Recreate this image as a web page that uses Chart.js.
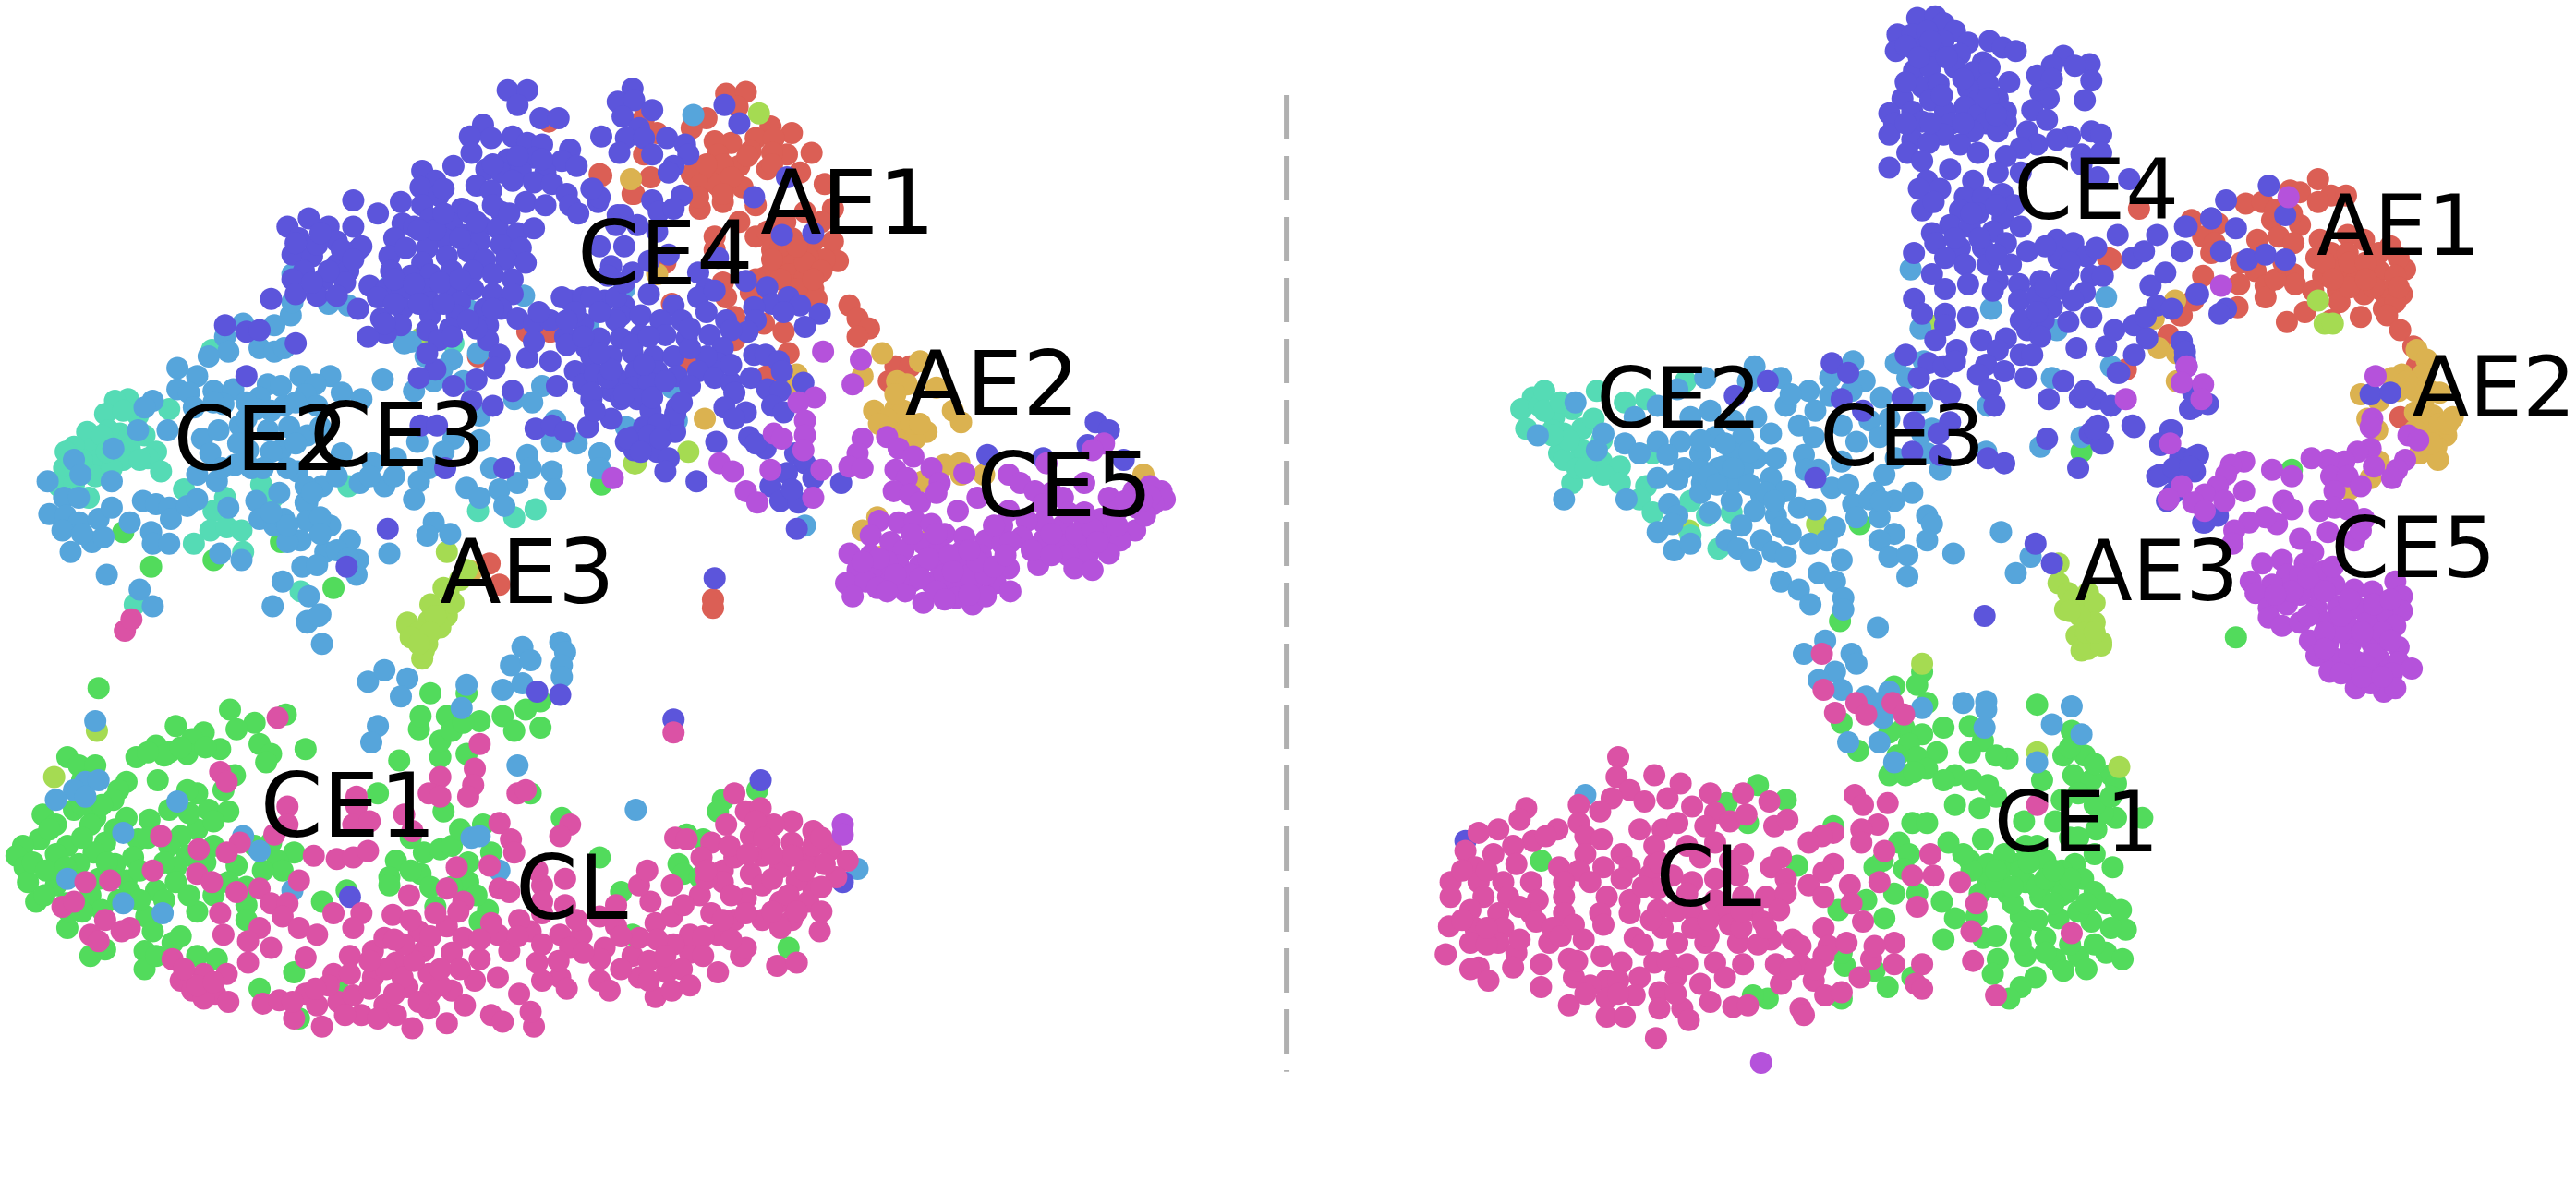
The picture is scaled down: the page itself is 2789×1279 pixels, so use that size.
<!DOCTYPE html>
<html><head><meta charset="utf-8">
<script src="https://cdn.jsdelivr.net/npm/chart.js@4"></script>
<style>html,body{margin:0;padding:0;background:#fff}canvas{display:block}</style>
</head><body><canvas id="c" width="2789" height="1279"></canvas>
<script>
// Values, as flat x,y lists (two embedding panels share one axis pair).
const ce1Left=[60,419,140,432,174,435,155,440,144,444,107,442,124,446,117,450,95,454,103,458,83,461,134,456,114,459,158,453,165,459,186,456,162,464,41,461,48,466,58,466,77,476,72,481,69,487,96,475,143,472,136,481,120,483,114,481,103,493,127,493,139,494,45,493,26,496,58,498,77,498,91,499,34,502,55,502,120,505,110,509,24,511,14,515,41,515,64,513,84,511,103,515,10,521,34,520,57,519,114,521,165,513,179,519,169,524,15,528,48,526,70,526,81,522,107,528,144,527,172,530,17,537,34,539,77,536,107,537,139,537,22,549,55,545,79,543,95,542,62,554,120,555,150,551,41,565,89,558,93,567,105,574,88,579,88,590,55,582,64,578,120,582,132,584,150,560,196,549,211,542,179,592,158,602,182,620,243,463,268,461,284,459,268,451,255,444,256,436,272,436,275,445,292,439,282,440,306,436,320,432,329,427,313,445,329,443,262,422,284,422,230,483,270,494,294,502,323,483,342,498,241,524,258,519,268,517,237,534,256,532,275,515,237,539,265,552,299,519,285,537,297,554,292,561,365,522,418,508,428,511,413,526,416,532,426,534,378,543,440,487,437,494,461,481,480,577,385,569,206,603,92,345,75,324,130,341,171,330,203,358,366,295];
const ce1LeftFill=[30,505,20,525,28,530,40,528,60,535,65,525,85,530,100,525,125,525,130,515,70,505,50,510,90,510,27,545,40,550,50,555,72,548,85,548,100,548,130,545,115,545,100,460,90,458,110,455,125,455,50,475,62,490,50,490,155,515,160,530,250,530,262,540,285,525,290,545,250,510,280,505,275,540,110,570,95,582,42,555,150,540,130,500,115,495];
const ce1Right=[1170,409,1167,417,1153,418,1173,428,1183,443,1159,443,1150,446,1170,447,1162,453,1179,458,1167,461,1150,472,1160,472,1173,468,1131,457,1121,440,1199,442,1207,451,1199,458,1222,462,1190,472,1183,475,1200,475,1240,429,1261,445,1256,460,1269,460,1243,475,1262,472,1285,472,1273,475,1265,483,1288,477,1215,485,1190,490,1205,492,1232,500,1251,500,1288,498,1304,498,1276,505,1164,501,1173,501,1156,513,1116,503,1186,513,1207,511,1233,515,1199,524,1210,526,1228,526,1245,524,1263,526,1286,528,1210,537,1233,537,1251,537,1268,535,1205,544,1222,544,1242,546,1259,543,1275,543,1190,559,1203,558,1230,558,1253,559,1282,550,1291,554,1183,572,1207,571,1230,567,1245,571,1273,561,1294,566,1216,584,1233,582,1251,584,1265,582,1282,580,1292,584,1213,593,1239,595,1256,591,1230,601,1223,608,1164,595,1149,601,1141,591,1123,588,1121,580,1076,608,1067,606,1121,608,1094,527,938,524,1070,478,1051,489,1087,487,1064,501,1146,524,1153,544,1167,544,1182,549,1136,548,1147,559,1119,554,1141,528,1162,520,1159,529,1361,388,1395,286,1132,319,1120,378,1267,275,1220,520,1240,515,1225,550,1265,555,1240,560,1218,530,1255,530,1260,510,1275,520];
const ce1RightFill=[1200,530,1215,540,1240,540,1255,545,1270,550,1250,550,1285,565,1275,575,1260,575,1245,580,1230,575,1215,570,1195,520,1265,510,1280,495,1275,490,1255,487,1210,478,1215,460,1260,455,1275,465,1285,485,1155,460,1165,470,1215,530,1230,530,1245,535,1260,535,1225,540,1235,525,1250,530,1270,590];
const ae1Left=[442,57,454,56,449,65,430,72,421,78,392,72,400,81,469,77,482,81,435,86,445,87,460,84,471,84,494,93,479,94,470,93,457,92,437,94,392,94,450,101,467,103,487,105,396,108,366,107,421,106,432,107,426,113,437,113,452,114,440,123,426,127,460,125,386,118,502,112,507,127,490,129,435,144,435,152,460,144,467,141,470,152,482,145,495,147,507,147,510,159,502,158,492,157,480,158,470,165,465,169,480,167,490,169,495,176,497,182,485,176,462,178,440,172,442,181,457,178,447,193,465,197,477,202,447,207,480,215,517,186,522,194,529,200,522,205,409,185,405,160,419,220,467,229,541,232,545,223,554,223,434,365,434,370,365,106,385,118,321,202,335,202,291,217,298,343,304,356,334,74,450,135,478,135,500,135];
const ae1LeftFill=[475,170,490,160,500,165,475,150,495,170,480,180,440,100,455,95,430,100,445,108,425,120,470,100,440,118,485,150,470,158,460,170];
const ae1Right=[1411,109,1394,116,1400,117,1367,124,1377,123,1419,119,1428,119,1411,123,1383,134,1400,137,1334,134,1350,136,1341,144,1348,148,1346,154,1374,146,1387,144,1396,148,1412,146,1429,143,1439,146,1455,150,1448,154,1419,154,1429,154,1464,164,1460,157,1410,157,1364,160,1341,168,1373,165,1396,167,1414,168,1425,165,1435,168,1448,165,1458,168,1363,173,1379,174,1397,173,1408,177,1423,177,1439,179,1450,177,1462,179,1379,181,1424,184,1451,188,1458,184,1362,187,1335,183,1327,192,1392,196,1403,190,1419,195,1437,193,1453,192,1461,201,1469,211,1471,223,1461,254,1320,204,1294,225,1283,157,1302,127,1285,158,1320,205,1328,192];
const ae1RightFill=[1430,160,1440,160,1445,175,1430,175,1415,160,1440,170,1420,170,1385,170,1375,155,1390,160,1460,175,1385,128,1395,130];
const ae2Left=[384,109,400,167,537,215,525,229,560,220,546,232,552,234,570,236,532,250,545,249,547,258,540,265,552,263,564,263,557,267,580,250,585,257,485,228,480,234,429,255,575,283,584,282,585,289,599,289,562,293,696,289,534,315,525,323,566,328,536,339,287,348,550,250,555,258,540,255,560,258,545,240,535,258];
const ae2Right=[1471,213,1477,219,1462,228,1475,228,1456,230,1479,238,1460,238,1437,240,1448,244,1485,239,1470,251,1481,253,1493,254,1477,261,1489,265,1483,272,1473,276,1484,280,1441,255,1447,262,1448,281,1443,291,1430,298,1448,366,1314,212,1324,183,1325,215,1325,232,1311,194,1470,238,1470,262,1485,258,1475,245,1465,232,1480,270,1490,258];
const ae3Left=[248,381,261,378,272,375,258,385,268,382,260,392,257,401,258,396,272,336,273,360,266,373,276,367,248,379,284,347,387,282,256,206,462,69,386,282,419,275,33,473,59,445,262,368,270,358,280,353,255,385,265,375,250,388,262,385,255,392];
const ae3Right=[1411,183,1415,197,1420,197,1106,319,1253,355,1259,361,1257,371,1270,366,1273,379,1264,387,1276,389,1271,361,1275,367,1275,379,1269,390,1279,391,1267,396,1271,395,1279,393,1170,404,1240,458,1290,467,1253,343,1028,323,1175,198,1262,365,1266,375,1270,385,1260,372,1275,385];
const ce2Left=[78,243,70,244,64,252,103,249,53,263,73,264,88,265,56,273,79,273,95,275,39,285,59,280,75,280,90,279,98,287,58,290,36,296,54,303,112,298,130,311,128,323,138,321,147,323,137,303,118,331,159,295,166,303,212,296,276,209,129,213,291,311,313,315,326,310,148,336,183,360,82,368,84,253,66,262,68,285,45,272,75,250,62,265,65,275,85,280,50,280,45,295,40,275];
const ce2Right=[933,242,926,249,937,247,929,261,946,254,957,249,972,238,989,245,1002,243,952,264,963,261,949,276,963,274,975,281,986,284,976,289,986,294,957,294,952,280,1006,276,1002,296,998,304,1054,312,1029,305,1006,312,1039,314,1046,334,1029,326,1026,232,940,238,945,262,970,255,975,268,960,285,940,250,950,245,955,268,965,285,945,265];
const ce3Left=[422,70,319,180,257,163,236,175,200,185,212,186,178,167,177,192,178,184,286,189,358,199,380,176,167,198,148,197,137,205,139,214,127,217,158,212,167,214,173,212,108,224,250,208,246,209,259,217,275,219,269,225,291,215,233,231,252,238,264,232,282,232,330,235,313,243,324,245,120,229,108,237,115,239,130,238,142,237,163,234,171,235,183,229,201,229,192,234,158,242,186,240,193,247,208,239,220,243,173,247,118,248,136,246,156,249,93,244,88,248,84,262,102,262,69,273,45,280,49,289,29,293,68,293,123,267,133,262,128,276,146,259,163,262,176,260,187,265,151,274,171,274,153,285,120,289,132,293,143,283,181,287,196,296,208,276,227,282,241,279,254,269,261,285,276,267,292,268,292,253,255,293,234,296,252,304,219,294,186,296,186,306,299,285,284,297,292,303,304,298,307,308,315,294,321,277,323,285,336,287,338,298,336,269,351,270,365,276,364,285,338,256,39,303,30,313,40,314,48,318,38,323,56,330,63,327,60,316,68,309,43,336,79,318,87,305,95,307,103,309,104,316,114,308,120,304,92,324,93,331,103,331,139,309,134,337,147,341,156,305,158,316,167,320,173,316,187,306,187,317,183,329,201,320,198,336,213,329,218,341,184,345,193,344,217,350,172,354,166,369,188,363,85,359,93,369,65,350,237,337,264,318,260,326,274,325,195,374,187,378,490,320,412,256,381,260,409,236,365,276,365,285,196,392,187,379,194,375,224,415,234,408,248,413,244,424,284,417,306,420,318,416,311,405,318,394,323,402,341,391,344,397,342,405,342,412,281,431,230,442,226,452,315,466,387,493,522,529,58,439,52,476,45,481,60,475,34,487,52,485,108,488,75,507,148,509,158,518,41,535,75,550,99,556,178,542,287,510,292,509,304,530,165,275,180,270,205,290,225,290];
const ce3LeftFill=[130,245,150,245,165,250,145,270,160,285,175,285,135,285,195,260,180,245,170,300,175,330,195,315,205,335,212,340,195,325,48,303,50,325,175,320,165,312,190,300,240,290,270,275,150,255];
const ce3Right=[1098,398,1127,398,1130,404,1117,409,1107,414,1121,420,1136,424,1150,421,1144,428,1146,437,1170,431,1195,428,1209,427,1209,432,1208,443,1261,430,1249,441,1267,447,1125,452,1144,452,1153,464,1240,464,965,484,959,245,936,265,976,264,972,274,989,270,995,254,998,276,1009,247,1021,237,1038,230,1068,223,1064,232,1084,230,1128,220,1114,230,1135,232,1101,238,1087,247,1114,241,1127,238,1145,242,1154,221,1161,230,1171,220,1170,245,1029,254,1041,250,1055,256,1069,254,1095,259,1121,259,1138,256,1176,261,1009,269,1023,269,1044,266,1061,266,1078,264,1104,266,1130,269,1144,266,1170,264,1015,277,1035,276,1055,276,1069,279,1098,277,1121,281,1154,279,1173,276,1209,275,1025,285,1046,285,1061,286,1081,279,1107,286,1147,289,1181,286,1242,272,1267,266,1009,291,1021,292,1036,294,1055,294,1078,291,1087,299,1099,286,1115,297,1141,300,1164,300,1035,300,1054,305,1072,301,952,304,990,304,1016,307,1021,314,1041,312,1068,311,1081,314,1095,309,1128,307,1138,304,1153,305,1009,324,1018,319,1084,321,1117,321,1144,315,1173,314,1176,319,1153,325,1019,335,1029,331,1051,329,1058,334,1072,329,1079,336,1102,331,1112,329,1144,329,1173,329,1218,324,1066,341,1087,339,1121,341,1150,339,1161,338,1189,337,1236,339,1227,349,1084,354,1107,349,1095,359,1117,354,1161,351,1102,368,1122,364,1122,371,1143,382,1111,390,1163,164,1212,188,1169,200,1282,181,1252,201,1285,223,1249,230,1210,247,1049,284,1035,286];
const ce3RightFill=[1040,290,1050,270,1065,275,1075,300,1055,285,1035,268,1060,320,1080,305,1090,325,1105,310,1045,295,1065,295,1125,295,1130,315,1145,305,1090,240,1105,250,1150,255];
const ce4Left=[309,55,321,55,315,64,329,72,340,72,294,76,286,83,299,84,312,83,321,87,330,88,347,91,287,93,309,97,325,96,342,98,351,101,276,101,257,104,296,103,305,105,317,104,332,105,265,110,256,114,290,113,299,116,312,110,325,111,336,112,267,119,257,125,345,118,320,123,332,125,347,125,361,115,364,123,215,122,230,130,244,123,281,127,305,129,352,130,376,131,175,138,188,133,182,145,200,138,215,138,205,147,218,152,178,155,190,156,205,161,220,150,185,165,197,170,212,165,178,170,193,149,210,172,180,179,193,180,165,182,245,136,240,145,252,138,262,133,275,136,285,129,293,138,303,139,315,142,325,139,270,145,282,143,292,147,305,149,317,151,260,151,272,156,285,153,295,158,308,158,320,160,237,156,247,151,257,160,238,165,250,168,262,167,275,165,288,165,300,167,312,170,225,174,235,176,245,177,260,176,275,176,288,176,300,179,312,179,218,188,230,181,245,188,262,184,262,192,280,184,278,192,295,188,295,194,305,188,315,194,325,197,335,195,347,183,342,181,355,181,368,183,380,186,378,192,355,197,232,194,244,198,235,203,224,205,234,197,260,201,274,200,267,207,297,198,297,207,304,216,301,224,290,231,321,218,325,208,335,220,344,205,357,212,265,225,255,230,276,235,312,238,300,247,287,244,339,235,350,226,360,225,370,227,382,233,355,234,360,243,372,238,326,261,336,259,344,263,358,260,381,269,386,274,307,285,271,285,211,345,236,322,150,229,137,198,150,202,158,201,180,209,256,259,266,259];
const ce4LeftB=[385,54,376,62,386,61,397,67,379,71,389,78,366,83,381,84,392,84,406,84,377,93,397,94,417,88,419,94,410,101,407,105,415,119,459,120,397,122,401,129,410,127,379,131,476,143,495,142,479,108,450,75,441,64,365,120,360,115,375,137,388,137,400,141,365,150,380,150,372,162,385,166,395,159,407,155,437,157,425,166,430,176,454,171,467,175,470,185,480,181,487,186,499,191,490,199,477,190,459,187,460,195,455,202,360,181,375,181,395,179,410,186,425,181,435,177,375,195,390,192,402,195,415,195,430,190,442,195,365,206,378,206,390,204,405,204,418,206,432,204,445,201,360,217,372,217,385,215,398,217,410,217,440,212,437,221,362,228,375,230,387,226,400,226,412,229,430,217,425,226,420,235,435,230,445,233,370,230,385,236,378,243,395,233,360,239,372,255,388,243,362,250,395,261,400,275,385,266,410,257,396,250,412,248,411,263,397,242,411,252,392,260,401,258,395,265,382,267,390,275,402,267,407,279,405,287,424,293,436,269,445,222,459,216,466,216,474,220,476,226,457,230,489,233,447,239,441,248,454,251,447,255,467,237,475,238,470,247,477,251,456,266,466,273,460,270,484,276,490,282,479,288,469,296,475,305,486,306,495,291,482,298,485,322,512,294,601,277,667,257,675,262,662,271,684,280,635,279,435,352,327,421,341,423,410,438,463,475,513,537,213,546];
const ce4LeftFill=[180,148,195,142,208,152,200,165,190,172,215,158,205,180,240,170,252,173,268,172,280,170,265,140,280,145,350,190,365,190,345,195,328,190,300,188,290,200,275,205,260,215,300,100,315,95,330,97,270,115,300,125,385,210,395,205,372,225,380,240,405,232,415,245,392,222,420,212,370,168,380,172,255,140,270,130,290,135,310,130,240,185,255,185,270,185,285,195,345,210,355,205,365,215,420,200];
const ce4Right=[1167,11,1178,10,1183,14,1190,19,1155,21,1164,21,1173,19,1183,25,1198,26,1154,31,1165,30,1177,31,1193,33,1211,25,1219,29,1227,31,1207,38,1165,43,1175,41,1190,41,1201,44,1211,41,1223,50,1170,53,1180,51,1210,51,1198,54,1204,61,1216,60,1158,60,1175,61,1196,65,1150,69,1164,68,1184,68,1204,70,1221,68,1153,75,1170,74,1188,75,1209,75,1221,74,1150,82,1164,85,1183,82,1201,80,1216,80,1174,87,1193,88,1204,93,1161,93,1170,98,1256,34,1249,40,1272,39,1263,40,1240,46,1273,49,1249,48,1242,56,1247,60,1269,61,1237,67,1246,73,1234,80,1273,80,1279,82,1260,83,1252,85,1240,88,1230,90,1221,95,1267,94,1279,93,1216,105,1230,105,1267,100,1277,108,1296,109,1150,102,1173,110,1187,103,1201,110,1168,115,1181,115,1170,128,1177,123,1196,120,1207,120,1219,118,1226,125,1193,128,1204,130,1219,133,1187,137,1199,138,1213,141,1230,138,1176,142,1178,148,1193,151,1207,151,1221,148,1234,153,1252,146,1262,148,1184,157,1165,154,1196,161,1210,161,1224,161,1253,157,1270,156,1276,151,1176,167,1198,173,1216,171,1229,173,1242,171,1259,166,1273,168,1280,168,1184,176,1213,177,1229,183,1253,176,1269,178,1165,182,1170,191,1184,191,1249,187,1262,183,1198,193,1244,195,1259,196,1273,193,1184,198,1178,207,1191,213,1206,207,1234,201,1221,206,1242,205,1216,213,1230,216,1237,216,1209,222,1220,226,1233,230,1204,228,1211,237,1214,247,1264,212,1160,216,1174,221,1183,223,1168,230,1181,237,1187,240,1158,242,1115,221,1125,227,1076,232,1056,241,1121,243,1134,250,1165,257,1187,257,1180,264,1164,275,1181,277,1105,291,1210,279,1220,282,1246,267,1265,285,1256,232,1247,243,1266,242,1276,243,1285,247,1269,238,1290,227,1277,259,1272,264,1280,270,1299,260,1208,375,1239,331,1249,343,1282,211,1287,201,1299,198,1307,206,1299,216,1309,174,1313,186,1318,166,1322,188,1306,193,1338,179,1328,208,1330,218,1313,143,1328,153,1289,143,1298,157,1305,153,1330,138,1346,133,1322,262,1315,271,1328,279,1338,277,1313,290,1325,290,1336,287,1342,318,1335,248,1381,113,1355,122,1391,131,1346,133,1361,139,1331,138,1352,153,1368,158,1379,155,1391,158,1337,179,1355,188,1351,191,1443,240,1455,239,1321,262,1279,270,1275,261,1298,259,1333,249,1344,246,1335,239,1315,270,1327,279,1336,278,1315,289,1323,285,1333,284,1323,300,1319,305,1341,318,1350,314,1328,208,1330,214,1331,223,1289,227,892,512];
const ce4RightFill=[1160,28,1175,25,1168,35,1185,35,1195,48,1210,60,1175,75,1195,75,1215,70,1200,130,1215,125,1190,145,1205,145,1215,155,1245,150,1260,160,1240,180,1255,170,1245,175,1160,50,1182,58,1160,75,1230,195,1240,190,1190,220];
const ce5Left=[501,214,524,219,519,234,496,242,486,245,490,256,490,265,489,274,471,264,476,267,438,282,446,287,469,286,500,286,454,299,461,306,495,303,525,267,522,276,517,284,525,285,540,266,547,273,556,278,545,286,552,291,544,299,554,301,560,306,567,285,572,294,570,300,587,288,595,303,583,311,614,289,621,294,630,299,640,300,637,282,672,270,665,274,660,294,647,303,635,307,675,303,690,299,707,299,709,304,700,296,702,307,692,309,691,323,697,314,680,311,670,316,660,320,647,320,635,318,625,317,614,311,610,320,622,327,635,329,647,332,660,332,675,327,682,329,675,337,662,338,650,338,632,344,654,346,665,347,535,317,547,318,557,317,567,319,530,326,542,330,575,325,587,327,600,329,517,337,530,338,550,335,562,331,572,334,585,336,597,338,610,331,522,347,535,347,547,344,560,344,572,344,585,345,597,347,614,346,515,355,527,354,542,354,555,354,567,355,580,356,592,356,606,355,519,363,534,358,551,360,562,367,582,364,592,368,600,363,615,360,555,350,575,350,590,350,565,340,540,342,578,338,600,350,373,291,513,502,513,508];
const ce5LeftFill=[535,340,545,350,560,352,570,360,580,348,595,342,540,360,525,342,605,345,590,362,575,365,640,325,655,325,665,322,680,320,700,302,695,305,605,320,615,330,628,335,640,338,668,330,685,305,660,312,650,312,570,325,590,335,555,325,612,338];
const ce5Right=[1393,120,1352,174,1331,223,1328,233,1341,234,1340,243,1294,243,1321,270,1446,229,1444,255,1443,260,1466,265,1472,268,1464,280,1459,286,1456,291,1443,273,1435,275,1445,284,1427,281,1417,280,1407,279,1419,290,1429,290,1437,296,1421,299,1421,309,1412,311,1429,310,1439,316,1417,324,1433,329,1437,323,1366,281,1358,283,1355,289,1383,286,1395,290,1366,299,1350,296,1342,301,1328,296,1320,304,1335,306,1354,305,1342,311,1390,305,1395,310,1386,319,1379,315,1369,318,1360,323,1359,331,1400,328,1408,336,1403,343,1414,348,1389,341,1377,343,1392,350,1370,354,1383,356,1373,361,1398,359,1410,359,1421,356,1433,359,1444,360,1458,354,1462,363,1462,372,1381,370,1392,368,1410,370,1423,369,1435,370,1450,373,1381,376,1389,381,1400,379,1416,379,1429,381,1441,379,1458,381,1406,390,1417,392,1431,392,1444,392,1460,394,1410,399,1421,401,1435,403,1448,401,1460,403,1418,409,1432,410,1444,410,1456,410,1468,407,1434,419,1451,421,1443,416,1458,419,1072,647,1400,350,1420,345,1450,385,1425,385,1400,362];
const ce5RightFill=[1415,385,1405,375,1425,375,1438,385,1415,395,1430,398,1445,398,1425,410,1440,405,1395,360,1405,352,1385,362,1415,360,1430,365,1445,368,1455,365,1455,390,1438,412,1450,412];
const clLeft=[268,473,289,468,288,478,285,485,134,470,138,476,261,483,268,485,315,483,320,481,217,485,217,491,175,491,215,502,225,500,175,502,246,496,251,506,98,509,167,508,146,513,138,519,121,517,304,501,347,502,341,509,311,511,191,521,205,523,215,522,224,518,93,530,120,532,129,537,52,537,67,536,182,536,278,528,298,527,313,519,38,552,45,549,144,543,158,541,64,560,79,565,55,569,74,567,60,573,134,556,165,550,175,550,136,569,172,558,158,565,182,565,203,556,220,556,193,569,215,565,239,557,249,545,272,541,282,549,304,541,330,539,327,530,344,535,105,584,151,573,165,577,151,586,186,583,110,597,124,593,138,593,117,603,131,605,139,610,124,608,160,611,170,609,179,620,186,605,196,625,193,612,206,610,203,593,213,582,227,579,234,571,241,586,213,593,227,595,220,618,234,612,241,618,251,626,272,623,261,614,248,601,261,593,275,603,289,597,255,567,272,564,282,571,258,579,275,580,292,584,265,556,279,555,303,569,323,567,341,569,354,569,368,577,310,579,327,586,341,595,347,577,303,595,316,605,299,618,325,625,306,622,323,616,316,560,299,562,330,556,351,560,365,584,365,597,371,603,385,582,389,595,399,607,409,603,406,592,420,580,437,592,451,582,473,588,485,586,454,577,437,569,420,569,399,562,389,571,409,558,396,549,409,539,389,539,426,545,433,556,416,551,375,551,394,530,440,530,447,522,457,509,482,500,471,502,495,506,506,517,516,524,509,534,495,541,482,513,492,521,464,521,475,528,457,532,440,537,464,539,485,536,454,547,475,549,492,549,447,560,464,560,482,560,499,567,433,513,427,522,444,515,411,510,418,511,447,483,454,494,463,492,442,502,495,515,502,526,468,513,482,521,454,556,475,565,310,543,330,549,344,551,365,558,375,564,76,384,80,377,410,446,169,437,292,453];
const clLeftFill=[120,600,112,590,130,598,200,600,215,606,225,602,235,590,245,595,252,585,262,604,280,590,283,612,268,600,255,610,230,620,210,618,192,602,178,610,246,575,262,570,240,572,225,585,268,590,292,572,315,570,330,575,340,585,355,580,378,590,378,570,395,585,410,575,428,570,445,572,415,590,428,582,395,597,420,600,440,560,430,535,445,545,470,535,480,545,470,520,490,530,500,510,460,500,470,555,485,555,430,530,455,520,250,560,240,605,330,597,345,602,400,572,405,582,465,510,500,540,500,555];
const clRight=[985,461,984,473,1007,472,1023,477,992,481,1041,483,1061,483,1077,488,961,490,929,492,925,499,981,486,1001,488,1015,486,1030,491,1044,495,1053,500,1063,496,1080,503,1088,499,974,494,961,501,948,505,912,505,900,507,933,512,941,509,965,509,998,505,1012,505,1021,501,1038,503,892,518,921,515,909,520,975,511,1007,515,1027,515,1044,513,965,520,987,520,923,526,898,528,949,528,961,530,976,528,992,528,1007,526,1035,522,1053,524,1061,520,1084,522,1078,528,883,537,900,537,915,537,932,537,952,537,968,537,987,535,1004,533,1018,533,1030,537,1044,535,1058,533,1087,535,883,546,903,546,918,546,936,548,952,546,978,546,992,548,1009,541,1027,544,1044,548,1061,546,1075,546,1087,544,895,554,912,556,932,556,952,556,974,556,992,556,1009,554,1030,554,1050,556,1067,554,1083,554,882,564,898,565,915,565,935,561,958,563,976,563,1012,565,1030,565,1053,563,1073,561,1091,572,880,581,895,574,912,574,923,580,943,574,964,572,995,571,1021,574,1038,574,1058,574,1078,572,1096,576,1110,565,1113,576,900,589,906,597,921,589,938,587,955,584,975,582,987,586,1007,586,1027,587,1044,586,1061,587,1081,587,1096,587,1110,582,1124,574,1139,584,1153,574,1153,587,1141,576,938,601,958,595,978,597,998,595,1035,599,1084,599,1104,597,1132,595,1170,587,1166,599,1170,602,955,612,978,608,995,606,1010,604,1041,610,1055,613,1064,612,1096,614,1111,606,1121,604,1098,618,978,619,989,619,1024,614,1028,621,1010,614,1008,632,1129,484,1134,490,1149,489,1143,502,1133,505,1116,507,1109,509,1101,513,1133,513,1147,518,1116,526,1110,531,1126,539,1164,533,1175,520,1177,533,1167,552,1144,537,1101,539,1110,546,1127,550,1134,561,1193,537,1203,550,1200,567,1201,585,1215,606,1261,568,1240,490,1110,420,1117,434,1130,428,1136,435,1152,428,1159,435,1109,398];
const clRightFill=[890,530,905,530,890,560,905,575,925,552,905,565,925,572,945,565,960,585,968,600,985,597,965,605,1000,575,1015,585,1020,595,985,605,1000,540,1010,525,1040,570,1060,565,1070,575,1090,590,1105,590,1050,595,1020,605,895,590,950,570,1005,560,1020,555,1040,560,1060,555,1075,565];
const clusterLabels=["CE1","AE1","AE2","AE3","CE2","CE3","CE4","CL","CE5"];
const clusterColors=["#52db5c","#db5f55","#dbb250","#a5db52","#55dbb5","#56a5db","#5c55db","#db52a5","#b552db"];
const clusterValues=[ce1Left.concat(ce1LeftFill,ce1Right,ce1RightFill),ae1Left.concat(ae1LeftFill,ae1Right,ae1RightFill),ae2Left.concat(ae2Right),ae3Left.concat(ae3Right),ce2Left.concat(ce2Right),ce3Left.concat(ce3LeftFill,ce3Right,ce3RightFill),ce4Left.concat(ce4LeftB,ce4LeftFill,ce4Right,ce4RightFill),clLeft.concat(clLeftFill,clRight,clRightFill),ce5Left.concat(ce5LeftFill,ce5Right,ce5RightFill)];
const leftNames=["AE1","CE4","AE2","CE5","CE2","CE3","AE3","CE1","CL"];
const leftTextX=[516,405,604,648,159,242,321,212,348];
const leftTextY=[128,159,238,300,272,270,353,495,545];
const rightNames=["CE4","AE1","CE2","CE3","AE2","CE5","AE3","CE1","CL"];
const rightTextX=[1276,1460,1022,1158,1518,1469,1313,1264,1040];
const rightTextY=[120,142,247,270,240,338,352,505,538];
const dividerX=[783.2,783.2];
const dividerY=[57.9,652.5];
const toPoints=a=>{const r=[];for(let i=0;i+1<a.length;i+=2)r.push({x:a[i],y:a[i+1]});return r;};
const datasets=clusterLabels.map((n,i)=>({label:n,data:toPoints(clusterValues[i]),backgroundColor:clusterColors[i],borderWidth:0,pointRadius:12,pointHoverRadius:12,showLine:false,order:clusterLabels.length-i+1}));
datasets.push({label:"divider",data:dividerX.map((x,i)=>({x,y:dividerY[i]})),showLine:true,borderColor:"#b0b0b0",borderWidth:6,borderDash:[48,18],pointRadius:0,order:99});
const drawNames=(ctx,x,y,names,xs,ys,size)=>{ctx.font=size+'px "DejaVu Sans"';names.forEach((t,i)=>ctx.fillText(t,x.getPixelForValue(xs[i]),y.getPixelForValue(ys[i])));};
const textPlugin={id:"clusterText",afterDatasetsDraw(ch){const {ctx,scales:{x,y}}=ch;ctx.save();ctx.fillStyle="#000";ctx.textAlign="center";ctx.textBaseline="middle";drawNames(ctx,x,y,leftNames,leftTextX,leftTextY,97);drawNames(ctx,x,y,rightNames,rightTextX,rightTextY,91);ctx.restore();}};
new Chart(document.getElementById("c"),{type:"scatter",data:{datasets},plugins:[textPlugin],options:{responsive:false,animation:false,devicePixelRatio:1,layout:{padding:0,autoPadding:false},plugins:{legend:{display:false},tooltip:{enabled:false}},scales:{x:{type:"linear",min:0,max:1568,display:false},y:{type:"linear",min:0,max:719,reverse:true,display:false}}}});
</script></body></html>
